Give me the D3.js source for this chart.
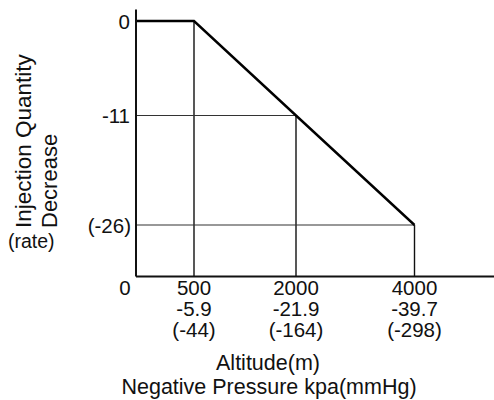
<!DOCTYPE html>
<html>
<head>
<meta charset="utf-8">
<script src="https://cdn.jsdelivr.net/npm/d3@7"></script>
<style>
  html, body { margin: 0; padding: 0; background: #fff; }
  svg { display: block; }
  text { font-family: "Liberation Sans", Arial, Helvetica, sans-serif; fill: #111; }
</style>
</head>
<body>
<svg id="chart" width="494" height="400"></svg>
<script>
// ---- data ----
const altitudes = [0, 500, 2000, 4000];
const altitudeLabels = ["0", "500", "2000", "4000"];
const pressureKpaLabels = ["", "-5.9", "-21.9", "-39.7"];
const pressureMmHgLabels = ["", "(-44)", "(-164)", "(-298)"];
const decreaseRate = [0, 0, -11, -26];
const yTickValues = [0, -11, -26];
const yTickLabels = ["0", "-11", "(-26)"];
const xTitle = "Altitude(m)";
const xTitle2 = "Negative Pressure kpa(mmHg)";
const yTitle1 = "Injection Quantity";
const yTitle2 = "Decrease";
const yUnit = "(rate)";

// ---- layout ----
const svg = d3.select("#chart");
const plotLeft = 135.5, plotRight = 494, plotTop = 9, plotBottom = 276;

// schematic (non-uniform) axes: piecewise linear scales
const x = d3.scaleLinear()
  .domain([0, 500, 2000, 4000, 5350])
  .range([plotLeft, 194, 296, 414.5, plotRight]);
const y = d3.scaleLinear()
  .domain([1.4, 0, -11, -26, -32])
  .range([plotTop, 21, 115.5, 225, plotBottom]);

const pts = altitudes.map((a, i) => ({ a, v: decreaseRate[i] }));

// guide lines
const g = svg.append("g");
pts.forEach((p, i) => {
  if (i >= 1) {
    g.append("line")
      .attr("x1", x(p.a)).attr("x2", x(p.a))
      .attr("y1", y(p.v)).attr("y2", plotBottom)
      .attr("stroke", "#111").attr("stroke-width", 1.4);
  }
  if (i >= 2) {
    g.append("line")
      .attr("x1", plotLeft).attr("x2", x(p.a))
      .attr("y1", y(p.v)).attr("y2", y(p.v))
      .attr("stroke", "#333").attr("stroke-width", 1.1);
  }
});

// curve
svg.append("path")
  .datum(pts)
  .attr("fill", "none")
  .attr("stroke", "#000")
  .attr("stroke-width", 2.4)
  .attr("stroke-linejoin", "miter")
  .attr("d", d3.line().x(d => x(d.a)).y(d => y(d.v)));

// axes
const xAxis = d3.axisBottom(x).tickValues([]).tickSizeOuter(0);
const yAxis = d3.axisLeft(y).tickValues([]).tickSizeOuter(0);
const gx = svg.append("g").attr("transform", `translate(0,${plotBottom})`).call(xAxis);
const gy = svg.append("g").attr("transform", `translate(${plotLeft},0)`).call(yAxis);
[gx, gy].forEach(ax => ax.select(".domain").attr("stroke", "#111").attr("stroke-width", 2));

// y tick labels
svg.selectAll(".ytl").data(yTickValues).enter().append("text")
  .attr("x", (d, i) => i === 2 ? 131 : 130)
  .attr("y", d => y(d) + 7.5)
  .attr("text-anchor", "end")
  .attr("font-size", 20.5)
  .text((d, i) => yTickLabels[i]);

// x tick labels (three lines)
const xt = svg.selectAll(".xtl").data(altitudes).enter().append("g")
  .attr("transform", (d, i) => `translate(${i === 0 ? 125 : x(d)},0)`);
xt.append("text").attr("y", 295).attr("text-anchor", "middle").attr("font-size", 20.5)
  .text((d, i) => altitudeLabels[i]);
xt.append("text").attr("y", 316).attr("text-anchor", "middle").attr("font-size", 20.5)
  .text((d, i) => pressureKpaLabels[i]);
xt.append("text").attr("y", 337).attr("text-anchor", "middle").attr("font-size", 20.5)
  .text((d, i) => pressureMmHgLabels[i]);

// axis titles
svg.append("text").attr("x", 268).attr("y", 370).attr("text-anchor", "middle")
  .attr("font-size", 21.5).text(xTitle);
svg.append("text").attr("x", 269).attr("y", 394).attr("text-anchor", "middle")
  .attr("font-size", 21.5).text(xTitle2);

svg.append("text")
  .attr("transform", "translate(31,228) rotate(-90)")
  .attr("text-anchor", "start").attr("font-size", 22.5).text(yTitle1);
svg.append("text")
  .attr("transform", "translate(57,228) rotate(-90)")
  .attr("text-anchor", "start").attr("font-size", 22).text(yTitle2);
svg.append("text").attr("x", 8).attr("y", 248)
  .attr("font-size", 19.5).text(yUnit);
</script>
</body>
</html>
